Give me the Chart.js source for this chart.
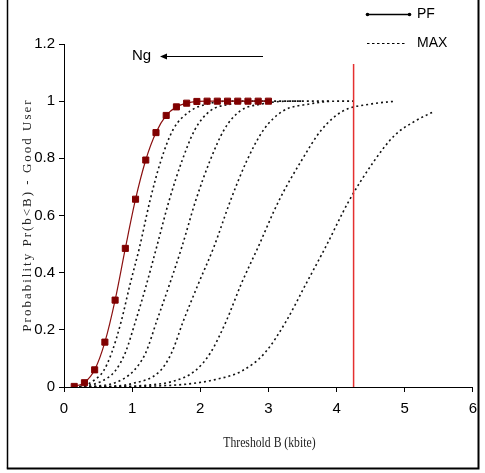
<!DOCTYPE html>
<html>
<head>
<meta charset="utf-8">
<script src="https://cdn.jsdelivr.net/npm/chart.js@4.4.1/dist/chart.umd.min.js"></script>
<style>
html,body{margin:0;padding:0;background:#fff;}
canvas{display:block;}
</style>
</head>
<body>
<canvas id="c" width="485" height="473"></canvas>
<script>
// ---- data ----
const xTicks = [0, 1, 2, 3, 4, 5, 6];
const yTicks = [0, 0.2, 0.4, 0.6, 0.8, 1, 1.2];

const pfX = [0.15,0.3,0.45,0.6,0.75,0.9,1.05,1.2,1.35,1.5,1.65,1.8,1.95,2.1,2.25,2.4,2.55,2.7,2.85,3.0];
const pfY = [0.002,0.015,0.06,0.157,0.304,0.485,0.657,0.794,0.89,0.95,0.98,0.993,0.999,1,1,1,1,1,1,1];

const maxAX = [0.15,0.3,0.45,0.58,0.7,0.84,0.97,1.11,1.26,1.42,1.6,1.85,2.1,2.4,2.7,3.0];
const maxAY = [0,0.005,0.025,0.056,0.12,0.23,0.36,0.49,0.65,0.79,0.9,0.965,0.99,1,1,1];

const maxBX = [0.15,0.35,0.55,0.75,0.9,1.05,1.2,1.36,1.54,1.73,1.92,2.14,2.45,2.8,3.1,3.5];
const maxBY = [0,0.005,0.02,0.056,0.12,0.23,0.35,0.49,0.65,0.79,0.9,0.965,0.99,1,1,1];

const maxCX = [0.15,0.45,0.75,1.02,1.2,1.36,1.55,1.73,1.93,2.14,2.35,2.58,2.9,3.3,3.9];
const maxCY = [0,0.003,0.015,0.056,0.12,0.23,0.36,0.49,0.65,0.79,0.9,0.965,0.99,1,1];

const maxDX = [0.15,0.6,1.0,1.41,1.58,1.75,1.97,2.2,2.44,2.68,2.93,3.21,3.6,4.0,4.25];
const maxDY = [0,0.002,0.012,0.056,0.12,0.23,0.36,0.49,0.65,0.79,0.9,0.965,0.99,1,1];

const maxEX = [0.15,0.7,1.2,1.6,1.92,2.15,2.38,2.6,2.85,3.15,3.48,3.78,4.09,4.5,4.87];
const maxEY = [0,0.001,0.006,0.02,0.056,0.12,0.23,0.36,0.49,0.65,0.79,0.9,0.965,0.99,1.0];

const maxFX = [0.15,0.8,1.4,1.8,2.2,2.61,2.95,3.26,3.55,3.84,4.18,4.55,4.85,5.15,5.44];
const maxFY = [0,0.001,0.004,0.01,0.025,0.056,0.12,0.23,0.36,0.49,0.65,0.79,0.88,0.93,0.965];

const redLineX = [4.25, 4.25];
const redLineY = [0, 1.13];

const xTitle = "Threshold B (kbite)";
const yTitle = "Probability Pr(b<B) - Good User";
const legendLabels = ["PF", "MAX"];
const annotationText = "Ng";

// ---- build ----
const pts = (xs, ys) => xs.map((x, i) => ({x: x, y: ys[i]}));

function dotted(xs, ys) {
  return {
    data: pts(xs, ys),
    borderColor: '#111',
    borderWidth: 1.6,
    borderDash: [2, 3],
    pointRadius: 0,
    fill: false,
    cubicInterpolationMode: 'monotone'
  };
}

const datasets = [
  {
    data: pts(pfX, pfY),
    borderColor: '#8b1010',
    borderWidth: 1.2,
    pointStyle: 'rect',
    pointRadius: 4.3,
    pointBackgroundColor: '#800000',
    pointBorderColor: '#800000',
    pointBorderWidth: 1,
    fill: false,
    cubicInterpolationMode: 'monotone'
  },
  {
    data: pts(redLineX, redLineY),
    borderColor: '#e53030',
    borderWidth: 1.5,
    pointRadius: 0,
    fill: false
  },
  dotted(maxAX, maxAY),
  dotted(maxBX, maxBY),
  dotted(maxCX, maxCY),
  dotted(maxDX, maxDY),
  dotted(maxEX, maxEY),
  dotted(maxFX, maxFY)
];

const tickFont = {family: '"Liberation Sans Narrow", "Liberation Sans", Arial', size: 15};
const fmt = (v) => String(Math.round(v * 10) / 10);

const decor = {
  id: 'decor',
  beforeDraw(chart) {
    const ctx = chart.ctx;
    ctx.save();
    ctx.fillStyle = '#fff';
    ctx.fillRect(0, 0, chart.width, chart.height);
    ctx.restore();
  },
  afterDraw(chart) {
    const ctx = chart.ctx;
    const ca = chart.chartArea;
    ctx.save();
    // frame
    ctx.strokeStyle = '#000';
    ctx.lineWidth = 1.5;
    ctx.beginPath();
    ctx.moveTo(7.5, 0); ctx.lineTo(7.5, 468.5);
    ctx.stroke();
    ctx.lineWidth = 2;
    ctx.beginPath();
    ctx.moveTo(6.8, 468.5); ctx.lineTo(478.5, 468.5); ctx.lineTo(478.5, 0);
    ctx.stroke();

    // y title
    ctx.fillStyle = '#222';
    ctx.save();
    ctx.translate(28, 215);
    ctx.rotate(-Math.PI / 2);
    ctx.font = '13px "Liberation Serif", "Times New Roman", serif';
    try { ctx.letterSpacing = '2px'; } catch (e) {}
    ctx.textAlign = 'center';
    ctx.textBaseline = 'middle';
    ctx.fillText(yTitle, 0, 0);
    ctx.restore();

    // x title
    ctx.save();
    ctx.translate((ca.left + ca.right) / 2 + 1, 443);
    ctx.scale(0.78, 1);
    ctx.font = '15px "Liberation Serif", "Times New Roman", serif';
    ctx.textAlign = 'center';
    ctx.textBaseline = 'middle';
    ctx.fillText(xTitle, 0, 0);
    ctx.restore();

    // Ng annotation with arrow
    ctx.fillStyle = '#000';
    ctx.font = '15px "Liberation Sans Narrow", "Liberation Sans", Arial';
    ctx.textAlign = 'left';
    ctx.textBaseline = 'middle';
    ctx.fillText(annotationText, 132, 56);
    ctx.strokeStyle = '#000';
    ctx.lineWidth = 1.2;
    ctx.beginPath();
    ctx.moveTo(263, 56.5); ctx.lineTo(162, 56.5);
    ctx.stroke();
    ctx.beginPath();
    ctx.moveTo(160, 56.5); ctx.lineTo(167, 53.5); ctx.lineTo(167, 59.5); ctx.closePath();
    ctx.fill();

    // legend
    ctx.lineWidth = 1.3;
    ctx.beginPath();
    ctx.moveTo(367, 14.5); ctx.lineTo(410, 14.5);
    ctx.stroke();
    ctx.beginPath(); ctx.arc(367.5, 14.5, 1.8, 0, Math.PI * 2); ctx.fill();
    ctx.beginPath(); ctx.arc(409.5, 14.5, 1.8, 0, Math.PI * 2); ctx.fill();
    ctx.lineWidth = 1;
    ctx.setLineDash([2.5, 2.5]);
    ctx.beginPath();
    ctx.moveTo(367, 43.5); ctx.lineTo(407, 43.5);
    ctx.stroke();
    ctx.setLineDash([]);
    ctx.font = '14px "Liberation Sans Narrow", "Liberation Sans", Arial';
    ctx.fillText(legendLabels[0], 417, 14.5);
    ctx.fillText(legendLabels[1], 417, 43.5);
    ctx.restore();
  }
};

new Chart(document.getElementById('c'), {
  type: 'line',
  data: {datasets: datasets},
  options: {
    responsive: false,
    animation: false,
    events: [],
    layout: {padding: {left: 0, top: 44, right: 10, bottom: 0}},
    plugins: {legend: {display: false}, tooltip: {enabled: false}},
    scales: {
      x: {
        type: 'linear',
        min: xTicks[0],
        max: xTicks[xTicks.length - 1],
        afterBuildTicks: (s) => { s.ticks = xTicks.map(v => ({value: v})); },
        afterFit: (s) => { s.height = 86; },
        grid: {drawOnChartArea: false, drawTicks: true, tickLength: 5, color: '#000', lineWidth: 1},
        border: {display: true, color: '#000', width: 1},
        ticks: {color: '#000', font: tickFont, padding: 8, maxRotation: 0, callback: fmt}
      },
      y: {
        type: 'linear',
        min: yTicks[0],
        max: yTicks[yTicks.length - 1],
        afterBuildTicks: (s) => { s.ticks = yTicks.map(v => ({value: v})); },
        afterFit: (s) => { s.width = 64; },
        grid: {drawOnChartArea: false, drawTicks: true, tickLength: 5, color: '#000', lineWidth: 1},
        border: {display: true, color: '#000', width: 1},
        ticks: {color: '#000', font: tickFont, padding: 4, callback: fmt}
      }
    }
  },
  plugins: [decor]
});
</script>
</body>
</html>
